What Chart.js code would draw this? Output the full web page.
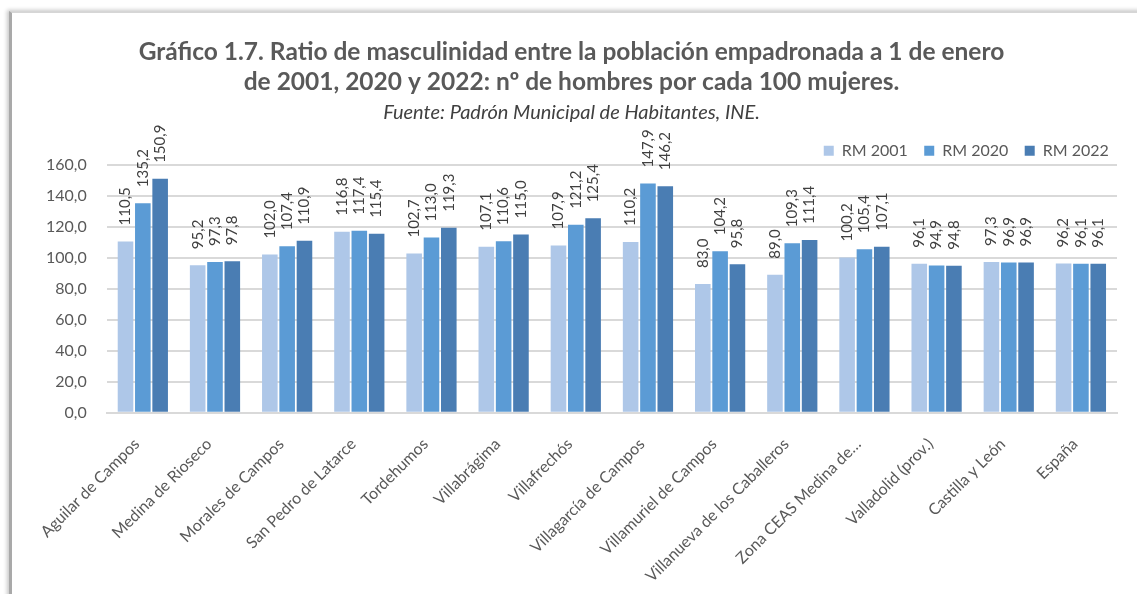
<!DOCTYPE html>
<html>
<head>
<meta charset="utf-8">
<script src="https://cdn.jsdelivr.net/npm/chart.js@4/dist/chart.umd.min.js"></script>
<style>
  html, body { margin: 0; padding: 0; background: #fff; width: 1137px; height: 594px; overflow: hidden; }
  #card { position: absolute; left: 9px; top: 11px; width: 1140px; height: 600px;
          border-left: 3px solid #a9a9a9; border-top: 2px solid #d6d6d6;
          box-shadow: -2px -1px 4px rgba(0,0,0,0.22); background: #fff; }
  #wrap { position: absolute; left: 12px; top: 14px; width: 1125px; height: 586px; }
</style>
</head>
<body>
<div id="card"></div>
<div id="wrap"><canvas id="c"></canvas></div>
<script>
const categories = ["Aguilar de Campos", "Medina de Rioseco", "Morales de Campos", "San Pedro de Latarce",
  "Tordehumos", "Villabrágima", "Villafrechós", "Villagarcía de Campos", "Villamuriel de Campos",
  "Villanueva de los Caballeros", "Zona CEAS Medina de…", "Valladolid (prov.)", "Castilla y León", "España"];
const seriesNames = ["RM 2001", "RM 2020", "RM 2022"];
const rm2001 = [110.5, 95.2, 102.0, 116.8, 102.7, 107.1, 107.9, 110.2, 83.0, 89.0, 100.2, 96.1, 97.3, 96.2];
const rm2020 = [135.2, 97.3, 107.4, 117.4, 113.0, 110.6, 121.2, 147.9, 104.2, 109.3, 105.4, 94.9, 96.9, 96.1];
const rm2022 = [150.9, 97.8, 110.9, 115.4, 119.3, 115.0, 125.4, 146.2, 95.8, 111.4, 107.1, 94.8, 96.9, 96.1];
const yTicks = [0, 20, 40, 60, 80, 100, 120, 140, 160];
const titleLines = ["Gráfico 1.7. Ratio de masculinidad entre la población empadronada a 1 de enero",
  "de 2001, 2020 y 2022: nº de hombres por cada 100 mujeres."];
const subtitleText = "Fuente: Padrón Municipal de Habitantes, INE.";

const colors = ["#aec7e8", "#5b9bd5", "#4a7db3"];
const fmt = v => Number(v).toFixed(1).replace('.', ',');

const labelPlugin = {
  id: 'barLabels',
  afterDatasetsDraw(chart) {
    const ctx = chart.ctx;
    ctx.save();
    ctx.font = '15px Lato';
    ctx.fillStyle = '#404040';
    ctx.textAlign = 'left';
    ctx.textBaseline = 'middle';
    chart.data.datasets.forEach((ds, di) => {
      const meta = chart.getDatasetMeta(di);
      meta.data.forEach((el, i) => {
        ctx.save();
        ctx.translate(el.x, el.y - 16);
        ctx.rotate(-Math.PI / 2);
        ctx.fillText(fmt(ds.data[i]), 0, 0);
        ctx.restore();
      });
    });
    ctx.restore();
  }
};

const legendShift = {
  id: 'legendShift',
  afterLayout(chart) {
    const l = chart.legend;
    if (!l) return;
    const d = 4;
    l.top += d; l.bottom += d;
    if (l.legendHitBoxes) l.legendHitBoxes.forEach(h => { h.top += d; });
  }
};

new Chart(document.getElementById('c'), {
  type: 'bar',
  data: {
    labels: categories,
    datasets: [
      { label: seriesNames[0], data: rm2001, backgroundColor: colors[0] },
      { label: seriesNames[1], data: rm2020, backgroundColor: colors[1] },
      { label: seriesNames[2], data: rm2022, backgroundColor: colors[2] }
    ]
  },
  options: {
    responsive: true,
    maintainAspectRatio: false,
    animation: false,
    layout: { padding: { left: 14, right: 20, top: 0, bottom: 0 } },
    datasets: { bar: { categoryPercentage: 0.72, barPercentage: 0.9 } },
    plugins: {
      title: {
        display: true, text: titleLines, color: '#595959',
        font: { family: 'Lato', size: 24.5, weight: 'bold', lineHeight: 1.24 },
        padding: { top: 23, bottom: 3 }
      },
      subtitle: {
        display: true, text: subtitleText, color: '#404040',
        font: { family: 'Lato', size: 20, style: 'italic', lineHeight: 1.2 },
        padding: { top: 0, bottom: 14 }
      },
      legend: {
        position: 'top', align: 'end',
        labels: { boxWidth: 10, boxHeight: 10, color: '#595959', padding: 0,
          font: { family: 'Lato', size: 16 },
          generateLabels(chart) {
            const items = Chart.defaults.plugins.legend.labels.generateLabels(chart);
            items.forEach((it, i) => { it.text = it.text + (i < items.length - 1 ? '    ' : '  '); });
            return items;
          } }
      },
      tooltip: { enabled: false }
    },
    scales: {
      x: {
        grid: { display: false },
        border: { color: '#d9d9d9', width: 2 },
        ticks: { color: '#595959', font: { family: 'Lato', size: 16 },
          maxRotation: 45, minRotation: 45, autoSkip: false, padding: 14, labelOffset: -6 }
      },
      y: {
        min: 0, max: 160,
        afterBuildTicks(axis) { axis.ticks = yTicks.map(v => ({ value: v })); },
        grid: { color: '#d9d9d9', lineWidth: 2, drawTicks: false },
        border: { display: false },
        ticks: { color: '#595959', font: { family: 'Lato', size: 16, lineHeight: 0.8 }, padding: 20,
          callback: v => fmt(v) }
      }
    }
  },
  plugins: [labelPlugin, legendShift]
});
</script>
</body>
</html>
